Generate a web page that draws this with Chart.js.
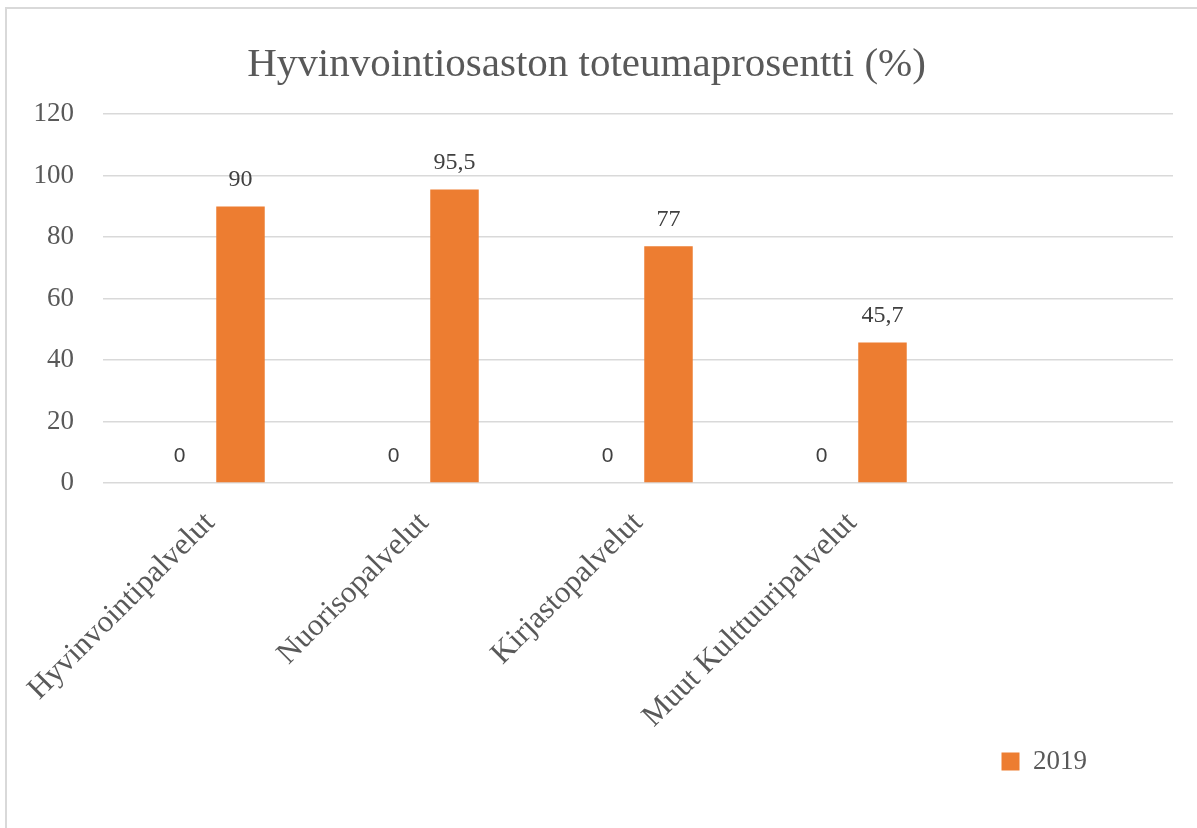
<!DOCTYPE html>
<html>
<head>
<meta charset="utf-8">
<script src="https://cdn.jsdelivr.net/npm/chart.js@4.4.1/dist/chart.umd.min.js"></script>
<style>
  html, body { margin: 0; padding: 0; background: #fff; }
  #frame { position: absolute; left: 5px; top: 7px; width: 1300px; height: 1000px; border: 2px solid #d9d9d9; }
  #wrap { position: absolute; left: 0; top: 0; width: 1197px; height: 828px; }
</style>
</head>
<body>
<div id="frame"></div>
<div id="wrap"><canvas id="chart"></canvas></div>
<script>
// chart data
var categories = ['Hyvinvointipalvelut', 'Nuorisopalvelut', 'Kirjastopalvelut', 'Muut Kulttuuripalvelut', ''];
var valuesBase = [0, 0, 0, 0, null];      // unnamed series, only its 0 labels show
var values2019 = [90, 95.5, 77, 45.7, null];
var yTicks = [0, 20, 40, 60, 80, 100, 120];

var serif = '"Liberation Serif", "Times New Roman", serif';
var textColor = '#595959';

function fmt(v) {
  return String(v).replace('.', ',');
}

// value labels above the bars
var valueLabels = {
  id: 'valueLabels',
  afterDatasetsDraw: function (chart) {
    var ctx = chart.ctx;
    chart.data.datasets.forEach(function (ds, i) {
      var meta = chart.getDatasetMeta(i);
      meta.data.forEach(function (bar, j) {
        var v = ds.data[j];
        if (v === null || v === undefined) return;
        ctx.save();
        ctx.font = i === 0 ? '21px "Liberation Sans", Arial, sans-serif' : '24px ' + serif;
        ctx.fillStyle = '#404040';
        ctx.textAlign = 'center';
        ctx.textBaseline = 'middle';
        ctx.fillText(fmt(v), bar.x, bar.y - 27);
        ctx.restore();
      });
    });
  }
};

// excel puts the legend a bit left of the plot's right edge
var legendShift = {
  id: 'legendShift',
  afterLayout: function (chart) {
    chart.legend.left -= 76;
    chart.legend.right -= 76;
  }
};

new Chart(document.getElementById('chart'), {
  type: 'bar',
  data: {
    labels: categories,
    datasets: [
      {
        label: '',
        data: valuesBase,
        backgroundColor: 'rgba(0,0,0,0)',
        categoryPercentage: 0.57,
        barPercentage: 0.795
      },
      {
        label: '2019',
        data: values2019,
        backgroundColor: '#ED7D31',
        categoryPercentage: 0.57,
        barPercentage: 0.795
      }
    ]
  },
  options: {
    responsive: true,
    maintainAspectRatio: false,
    animation: false,
    layout: { padding: { left: 0, right: 24, top: 0, bottom: 43 } },
    plugins: {
      title: {
        display: true,
        text: 'Hyvinvointiosaston toteumaprosentti (%)',
        color: textColor,
        font: { family: serif, size: 41, weight: 'normal' },
        padding: { top: 41, bottom: 24 }
      },
      legend: {
        display: true,
        position: 'bottom',
        align: 'end',
        labels: {
          color: textColor,
          font: { family: serif, size: 27 },
          boxWidth: 18,
          boxHeight: 18,
          padding: 10,
          filter: function (item) { return item.text !== ''; }
        }
      },
      tooltip: { enabled: false }
    },
    scales: {
      x: {
        grid: { display: false },
        border: { display: false },
        ticks: {
          autoSkip: false,
          maxRotation: 45,
          minRotation: 45,
          color: textColor,
          font: { family: serif, size: 31 },
          padding: 14
        },
        afterFit: function (scale) { scale.height = 255; }
      },
      y: {
        min: 0,
        max: 120,
        border: { display: false },
        grid: { color: '#d9d9d9', lineWidth: 1.5, drawTicks: false },
        ticks: {
          stepSize: 20,
          color: textColor,
          font: { family: serif, size: 27 },
          padding: 29
        },
        afterBuildTicks: function (scale) {
          scale.ticks = yTicks.map(function (v) { return { value: v }; });
        },
        afterFit: function (scale) { scale.width = 103; }
      }
    }
  },
  plugins: [valueLabels, legendShift]
});
</script>
</body>
</html>
